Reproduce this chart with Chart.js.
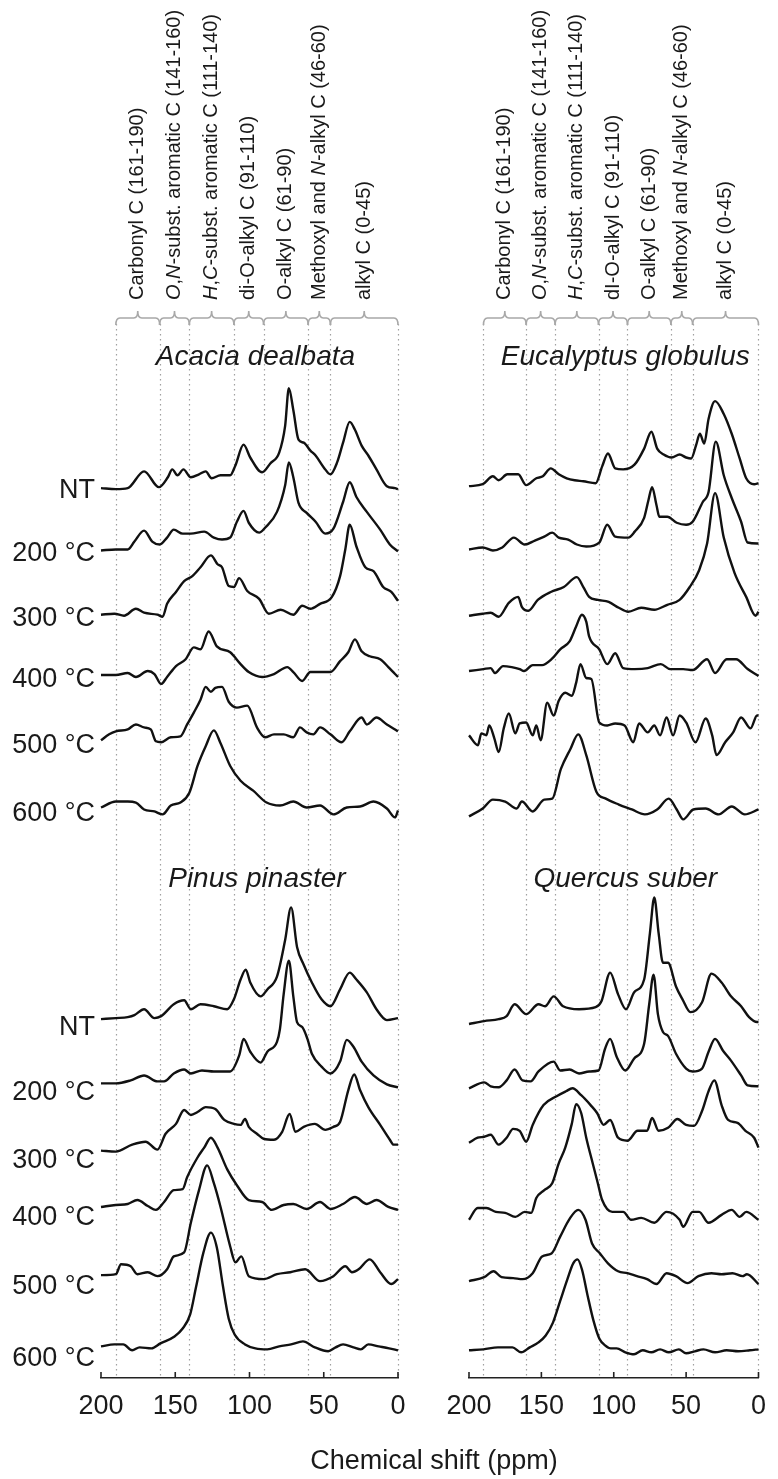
<!DOCTYPE html>
<html>
<head>
<meta charset="utf-8">
<script src="https://cdn.jsdelivr.net/npm/chart.js@4.4.1/dist/chart.umd.min.js"></script>
<style>
  html, body { margin: 0; padding: 0; background: #fff; }
  body { width: 778px; height: 1479px; position: relative; overflow: hidden;
         font-family: "Liberation Sans", Arial, sans-serif; }
  canvas { position: absolute; top: 0; }
  #left { left: 0; }
  #right { left: 420px; }
  #xtitle { position: absolute; left: 0; width: 868px; top: 1444px; line-height: 32px;
            text-align: center; font-size: 27px; color: #1a1a1a; }
</style>
</head>
<body>
<canvas id="left" width="420" height="1479"></canvas>
<canvas id="right" width="358" height="1479"></canvas>
<div id="xtitle">Chemical shift (ppm)</div>
<script>
// 13C NMR spectra, [ppm, intensity] pairs (intensity above each trace's baseline)
const acaciaNT = [[200,0],[190,-1],[182,0],[171,17],[161,1],[155,11],[152,19],[148.5,13],[144.5,19],[139.5,11],[134,14],[129.5,17],[125.5,10],[119.5,13],[113,13],[109.5,23],[104,44],[99.5,31],[91.5,16],[86,25],[80,36],[76,63],[73.5,101],[70.5,79],[67,49],[63.5,46],[59,38],[55.5,33],[50,21],[45.5,14],[41,26],[37,46],[32.5,67],[29,59],[24.5,43],[20,33],[14.5,19],[7.5,2],[2,0],[0,-1]];
const acacia200 = [[200,0],[190,1],[182,1],[177.5,9],[171,20],[165.5,9],[160.5,6],[155.5,13],[151,21],[145,17],[139.5,17],[130.5,19],[124,13],[118.5,11],[113,13],[108.5,29],[104,40],[100.5,28],[93.5,18],[89.5,23],[81.5,39],[76,66],[73.5,89],[70.5,74],[67,48],[61.5,38],[55.5,29],[49,17],[43.5,22],[37,49],[32.5,69],[28,54],[21,39],[12,21],[5.5,6],[0,-1]];
const acacia300 = [[200,0],[191,1],[184.5,-1],[176.5,6],[171,2],[162,0],[158.5,-2],[155.5,11],[149.5,23],[144,34],[138.5,39],[133,48],[126,60],[121.5,51],[118.5,48],[114,29],[110.5,28],[107,37],[101.5,24],[93.5,16],[87,1],[79,5],[70.5,0],[64.5,9],[59,6],[52.5,11],[44.5,18],[39,39],[35.5,66],[32.5,91],[28,69],[22,48],[16.5,44],[10,28],[4.5,23],[0,14]];
const acacia400 = [[200,0],[190,0],[182,2],[176.5,-2],[168.5,4],[164,1],[159.5,-9],[155.5,-2],[149.5,9],[143,16],[137.5,28],[133,26],[127.5,44],[122,29],[113,23],[106,11],[100.5,3],[91.5,-2],[83.5,1],[74.5,8],[70.5,3],[64.5,-6],[59,3],[51.5,3],[45.5,3],[39,14],[33.5,23],[29,36],[24.5,24],[19,19],[12,16],[6.5,8],[2,1],[0,-2]];
const acacia500 = [[200,0],[194.5,6],[190,9],[182,11],[176.5,16],[171,13],[166.5,11],[163,-1],[159.5,-2],[153,3],[146.5,4],[142,16],[137.5,28],[133,41],[129.5,54],[126,49],[123,53],[118.5,54],[114,39],[108.5,33],[101.5,35],[95,13],[89.5,3],[83.5,6],[77,6],[70.5,3],[66,13],[61.5,8],[57,6],[52.5,13],[45.5,6],[38,-2],[32.5,9],[24.5,23],[21,16],[14.5,23],[7.5,16],[2,11],[0,9]];
const acacia600 = [[200,0],[190,6],[182,6],[176.5,5],[171,-2],[164,-4],[158.5,-7],[153,2],[146.5,5],[140.5,15],[135,42],[129.5,62],[124,78],[119.5,65],[113,42],[106,27],[97.5,17],[88.5,5],[79.5,2],[70.5,6],[61.5,0],[52.5,2],[43.5,-7],[34.5,0],[25.5,1],[16.5,6],[7.5,-1],[2,-10],[0,-3]];

const pinusNT = [[200,0],[190,1],[182,2],[177.5,4],[171,10],[164,1],[159.5,3],[151,15],[144,19],[139.5,10],[133,15],[124,13],[115,10],[110.5,20],[106,40],[102.5,50],[99.5,37],[92.5,23],[88,30],[81.5,43],[76,80],[72,113],[68,73],[63.5,55],[58,37],[51.5,20],[45.5,13],[39,30],[32.5,47],[28,40],[21,27],[14.5,10],[7.5,-1],[0,1]];
const pinus200 = [[200,0],[190,0],[180,3],[171,8],[162,2],[157.5,2],[151,10],[144,14],[139.5,10],[132,13],[124,12],[113,12],[107,28],[104,45],[99.5,32],[92.5,21],[88,32],[81.5,42],[79.5,55],[77,90],[73.5,124],[70.5,88],[68,62],[64.5,57],[61,45],[58,30],[51.5,17],[45.5,10],[39,22],[34.5,44],[30,37],[24.5,22],[16.5,8],[7.5,-1],[0,-4]];
const pinus300 = [[200,0],[190,-1],[179,6],[170,9],[162,1],[156.5,17],[149.5,27],[144,41],[139.5,36],[135,39],[129.5,44],[123,42],[117,31],[110.5,27],[106,26],[103,32],[100.5,24],[95,17],[90.5,12],[83.5,11],[78,19],[73,37],[69,19],[63.5,24],[56,27],[49,21],[43.5,24],[39,29],[33.5,61],[29.5,77],[25.5,61],[20,44],[12,26],[5.5,11],[3,6],[0,6]];
const pinus400 = [[200,0],[190,2],[182,3],[175.5,7],[168.5,1],[163,-3],[157.5,5],[151,17],[145,18],[142,30],[135,50],[130.5,60],[126,70],[121.5,60],[115,38],[108.5,22],[100.5,7],[91.5,5],[85,-3],[77,2],[70.5,3],[61.5,-2],[52.5,5],[45.5,-2],[37,3],[29,10],[21,3],[14.5,7],[6.5,0],[0,-3]];
const pinus500 = [[200,0],[190,1],[186.5,11],[180,9],[175.5,1],[168.5,3],[162,-1],[155.5,6],[151,19],[144,23],[139.5,53],[134,86],[128.5,111],[124,93],[119.5,69],[113,29],[109.5,13],[105.5,19],[100.5,-1],[90.5,-4],[81.5,1],[72.5,3],[62.5,6],[52.5,-6],[43.5,-1],[35.5,9],[31,3],[26.5,6],[19,16],[12,3],[4.5,-9],[0,-4]];
const pinus600 = [[200,0],[191,2],[185,2],[179,-4],[174,-1],[166,-2],[160,3],[150.5,10],[145,18],[140,32],[136,60],[131,95],[126,115],[122,100],[118,62],[114,28],[110,12],[103,2],[96,-2],[88,-3],[80,0],[72,2],[64,5],[56,-1],[47,-5],[42,-1],[37,2],[30,-1],[25,-3],[20,2],[13,0],[6,-2],[0,-4]];

const eucNT = [[200,0],[190.5,2],[183.5,10],[179.5,6],[173.5,12],[166,12],[160.5,1],[153.5,8],[149,10],[143.5,18],[138,12],[132.5,8],[127,6],[121,5],[112.5,3],[108,20],[104,33],[99,18],[93.5,17],[85.5,22],[79,38],[74,55],[70,38],[65.5,32],[60,29],[54.5,32],[50,29],[46.5,28],[43,42],[40.5,53],[37.5,43],[34.5,68],[30,86],[24,73],[18.5,53],[13,28],[8.5,8],[3,2],[0,3]];
const euc200 = [[200,0],[190.5,2],[183.5,-1],[177,2],[169,12],[161.5,5],[154.5,9],[148,13],[142.5,17],[138,12],[131.5,10],[125.5,5],[119,3],[110,7],[104.5,25],[99,13],[90,12],[85.5,18],[79,32],[76,50],[73.5,63],[70.5,45],[68.5,33],[63,33],[56.5,27],[50,25],[45.5,28],[38.5,48],[34.5,58],[29.5,109],[24,75],[18.5,52],[12,28],[7.5,7],[0,6]];
const euc300 = [[200,0],[190.5,2],[185,3],[179.5,-1],[172.5,13],[166,19],[163.5,9],[159,5],[152.5,16],[143.5,24],[134.5,29],[125.5,39],[121,29],[117,19],[111,16],[103.5,14],[96.5,8],[90,4],[81,8],[72,6],[63,11],[54.5,16],[47.5,29],[41,46],[35.5,73],[30,124],[24,79],[16.5,43],[8.5,19],[2,0],[0,4]];
const euc400 = [[200,0],[190,2],[185,3],[182,-2],[176.5,5],[170.5,4],[165,2],[162,0],[156,6],[149.5,6],[143,12],[137,22],[130.5,30],[126,45],[122,57],[119,50],[117,35],[110,22],[104.5,7],[99,18],[93.5,3],[85.5,2],[76.5,3],[67.5,7],[61,2],[52,2],[45.5,1],[35.5,12],[30,-2],[22,12],[15.5,12],[7.5,2],[0,-5]];
const euc500 = [[200,0],[193.8,-10],[191.5,2],[188,0],[186,10],[182.5,-3],[179.5,-17],[176,7],[172.5,22],[168,2],[165,12],[160.5,13],[156,0],[153.5,10],[150.5,-5],[146,33],[141.5,20],[138,35],[133.5,43],[129,40],[126,53],[123,72],[119,58],[115.5,57],[110,13],[104.5,10],[99,12],[92.5,10],[86.5,-7],[82.5,12],[76.5,3],[72,10],[68,0],[63.5,18],[59,0],[54.5,20],[50,13],[43.5,-7],[36.5,17],[32,0],[29,-20],[23,-7],[17.5,3],[12,18],[5.5,7],[1,20],[0,20]];
const euc600 = [[200,0],[190.5,8],[183.5,17],[175,15],[167,8],[163.5,15],[156,5],[148,17],[142.5,18],[136.5,48],[130,68],[124.5,83],[119,62],[112,25],[105.5,18],[96.5,12],[87.5,7],[78.5,2],[70,7],[62,18],[56.5,7],[52,-3],[45,7],[36.5,8],[27.5,2],[18.5,10],[9.5,2],[0,7]];

const quercusNT = [[200,0],[189.5,3],[179.5,5],[174,8],[168.5,20],[160.5,10],[152,20],[147.5,18],[141.5,28],[135,18],[124,15],[112.5,17],[108.5,23],[102.5,52],[97,30],[91.5,15],[86,32],[79,45],[75,92],[72,128],[69,92],[66,62],[62.5,62],[57,38],[52.5,25],[47,12],[39,22],[32.5,51],[25.5,42],[19,28],[12,18],[6.5,7],[1,2],[0,2]];
const quercus200 = [[200,0],[189.5,6],[185,2],[179.5,1],[174,8],[168.5,19],[163,8],[157.5,7],[152,17],[141.5,27],[137,18],[130.5,19],[124,15],[117,17],[110.5,18],[106,40],[102.5,50],[98,32],[92,18],[86,30],[79,45],[75.5,85],[72.5,115],[69.5,75],[66,57],[62.5,53],[57,35],[50,20],[45.5,17],[39,20],[34.5,37],[30,50],[24.5,38],[19,28],[12,13],[7.5,3],[0,2]];
const quercus300 = [[200,0],[194,5],[189.5,6],[185,8],[179.5,-2],[174,5],[169.5,14],[165,12],[160.5,1],[156,18],[148.5,38],[139.5,47],[133,52],[128.5,55],[122.5,48],[116,38],[111.5,30],[107,18],[102.5,23],[97,5],[90.5,2],[83.5,12],[77,12],[73.5,25],[69,12],[62.5,15],[56,24],[50,18],[44.5,17],[39,32],[34.5,52],[30.5,63],[25.5,38],[21,23],[14.5,20],[9,12],[3,5],[0,-5]];
const quercus400 = [[200,0],[194,12],[188,12],[181.5,8],[175,7],[168,3],[161.5,8],[157,7],[153.5,22],[148,30],[142.5,37],[138,57],[133.5,73],[129,97],[126,117],[122.5,108],[119,83],[114.5,57],[111,37],[108,20],[101,8],[93.5,8],[88,0],[81,2],[72,-3],[63.5,8],[54.5,0],[52,-7],[45.5,8],[41,8],[34.5,-3],[25.5,5],[18.5,10],[13,3],[8.5,8],[0,0]];
const quercus500 = [[200,0],[189.5,4],[183,10],[177.5,4],[169.5,3],[163,2],[156,8],[149.5,25],[143,28],[137,45],[130.5,63],[124.5,72],[119.5,62],[115,38],[109.5,28],[104,18],[97,10],[90.5,8],[84,5],[77,2],[70.5,-3],[63.5,8],[57,5],[49,-2],[41.5,5],[32.5,8],[25.5,7],[18,8],[11,5],[8,7],[0,-3]];
const quercus600 = [[200,0],[190,1],[180,3],[170,3],[164,-2],[158,3],[152,8],[147,15],[142,28],[137,50],[132,72],[128,88],[125,92],[122,82],[118,55],[114,30],[110,12],[106,5],[102,2],[98,2],[92,-2],[86,-4],[80,0],[74,-2],[68,1],[62,-2],[55,1],[50,-3],[44,-1],[38,1],[30,-2],[22,0],[14,-1],[6,0],[0,1]];

const treatments = ['NT', '200 °C', '300 °C', '400 °C', '500 °C', '600 °C'];
const xTicks = [200, 150, 100, 50, 0];

// chemical shift regions (ppm) and their labels
const regions = [[190, 160.5], [160.5, 140.5], [140.5, 110.5], [110.5, 90.5], [90.5, 60.5], [60.5, 45.5], [45.5, 0]];
const regionLabelsLeft = ['Carbonyl C (161-190)', '*O*,*N*-subst. aromatic C (141-160)', '*H*,*C*-subst. aromatic C (111-140)',
  'di-O-alkyl C (91-110)', 'O-alkyl C (61-90)', 'Methoxyl and *N*-alkyl C (46-60)', 'alkyl C (0-45)'];
const regionLabelsRight = ['Carbonyl C (161-190)', '*O*,*N*-subst. aromatic C (141-160)', '*H*,*C*-subst. aromatic C (111-140)',
  'dI-O-alkyl C (91-110)', 'O-alkyl C (61-90)', 'Methoxyl and *N*-alkyl C (46-60)', 'alkyl C (0-45)'];

// layout (canvas pixels)
const FONT = '"Liberation Sans", Arial, sans-serif';
const AREA_TOP = 325, AREA_BOTTOM = 1390;
const BRACE_Y = 318, BRACE_TIP = 311, LABEL_BOTTOM = 300;
const leftBase = [490, 553, 618, 679, 745, 813, 1027, 1092, 1160, 1217, 1286, 1358];
const rightBase = [488, 552, 619, 675, 740, 822, 1032, 1097, 1152, 1230, 1292, 1362];

function drawRotated(ctx, label, x, yBottom) {
  ctx.save();
  ctx.translate(x, yBottom);
  ctx.rotate(-Math.PI / 2);
  ctx.textAlign = 'left';
  ctx.textBaseline = 'middle';
  ctx.fillStyle = '#1a1a1a';
  let pos = 0;
  label.split('*').forEach((part, i) => {
    if (!part) return;
    ctx.font = (i % 2 ? 'italic ' : '') + '20px ' + FONT;
    ctx.fillText(part, pos, 0);
    pos += ctx.measureText(part).width;
  });
  ctx.restore();
}

const decorations = {
  id: 'decorations',
  beforeDatasetsDraw(chart, args, opts) {
    const { ctx, chartArea } = chart;
    const x = chart.scales.x;
    const px = v => x.getPixelForValue(v);
    ctx.save();

    // dotted region boundaries
    ctx.strokeStyle = '#a0a0a0';
    ctx.lineWidth = 1.2;
    ctx.setLineDash([1.5, 3.5]);
    const edges = [...new Set(regions.flat())];
    edges.forEach(v => {
      const xx = Math.round(px(v)) + 0.5;
      ctx.beginPath();
      ctx.moveTo(xx, BRACE_Y + 6);
      ctx.lineTo(xx, chartArea.bottom);
      ctx.stroke();
    });
    ctx.setLineDash([]);

    // braces over each region
    ctx.strokeStyle = '#a8a8a8';
    ctx.lineWidth = 1.6;
    regions.forEach(([a, b]) => {
      const xa = px(a), xb = px(b), xm = (xa + xb) / 2, r = 4;
      ctx.beginPath();
      ctx.moveTo(xa, BRACE_Y + 7);
      ctx.quadraticCurveTo(xa, BRACE_Y, xa + r, BRACE_Y);
      ctx.lineTo(xm - r, BRACE_Y);
      ctx.quadraticCurveTo(xm, BRACE_Y, xm, BRACE_TIP);
      ctx.quadraticCurveTo(xm, BRACE_Y, xm + r, BRACE_Y);
      ctx.lineTo(xb - r, BRACE_Y);
      ctx.quadraticCurveTo(xb, BRACE_Y, xb, BRACE_Y + 7);
      ctx.stroke();
    });

    // region labels
    regions.forEach(([a, b], i) => drawRotated(ctx, opts.labels[i], (px(a) + px(b)) / 2, LABEL_BOTTOM));

    // species titles
    ctx.fillStyle = '#1a1a1a';
    ctx.font = 'italic 28px ' + FONT;
    ctx.textAlign = 'center';
    ctx.textBaseline = 'middle';
    opts.titles.forEach(t => ctx.fillText(t.text, px(t.ppm), t.y));

    // treatment labels
    if (opts.rowLabels) {
      ctx.font = '27px ' + FONT;
      ctx.textAlign = 'right';
      opts.bases.forEach((b, i) => ctx.fillText(treatments[i % 6], chartArea.left - 6, b + 1));
    }
    ctx.restore();
  },
  afterDraw(chart) {
    // tick marks pointing up from the axis line
    const { ctx, chartArea } = chart;
    const x = chart.scales.x;
    ctx.save();
    ctx.strokeStyle = '#222';
    ctx.lineWidth = 1.6;
    x.ticks.forEach((t, i) => {
      const xx = x.getPixelForTick(i);
      ctx.beginPath();
      ctx.moveTo(xx, chartArea.bottom);
      ctx.lineTo(xx, chartArea.bottom - 6);
      ctx.stroke();
    });
    ctx.restore();
  }
};

function makeColumn(id, rows, bases, pad, labels, titles, rowLabels) {
  new Chart(document.getElementById(id), {
    type: 'line',
    data: {
      datasets: rows.map((row, i) => ({
        data: row.map(([ppm, h]) => ({ x: ppm, y: AREA_BOTTOM - bases[i] + h })),
        borderColor: '#111',
        borderWidth: 2.4,
        pointRadius: 0,
        fill: false,
        cubicInterpolationMode: 'monotone'
      }))
    },
    options: {
      responsive: false,
      animation: false,
      clip: false,
      layout: { padding: { left: pad.left, right: pad.right, top: AREA_TOP, bottom: 1479 - AREA_BOTTOM - 44.4 } },
      plugins: {
        legend: { display: false },
        tooltip: { enabled: false },
        decorations: { labels, titles, bases, rowLabels }
      },
      scales: {
        x: {
          type: 'linear',
          reverse: true,
          min: 0,
          max: 200,
          afterBuildTicks: s => { s.ticks = xTicks.map(v => ({ value: v })); },
          ticks: { padding: 12, color: '#1a1a1a', font: { size: 27, family: FONT } },
          grid: { display: false, drawTicks: false },
          border: { display: true, color: '#222', width: 1.6 }
        },
        y: { display: false, min: 0, max: AREA_BOTTOM - AREA_TOP }
      }
    },
    plugins: [decorations]
  });
}

makeColumn('left',
  [acaciaNT, acacia200, acacia300, acacia400, acacia500, acacia600, pinusNT, pinus200, pinus300, pinus400, pinus500, pinus600],
  leftBase, { left: 101, right: 22 }, regionLabelsLeft,
  [{ text: 'Acacia dealbata', ppm: 96, y: 357 }, { text: 'Pinus pinaster', ppm: 95, y: 879 }], true);

makeColumn('right',
  [eucNT, euc200, euc300, euc400, euc500, euc600, quercusNT, quercus200, quercus300, quercus400, quercus500, quercus600],
  rightBase, { left: 49, right: 10 }, regionLabelsRight,
  [{ text: 'Eucalyptus globulus', ppm: 92, y: 357 }, { text: 'Quercus suber', ppm: 92, y: 879 }], false);
</script>
</body>
</html>
